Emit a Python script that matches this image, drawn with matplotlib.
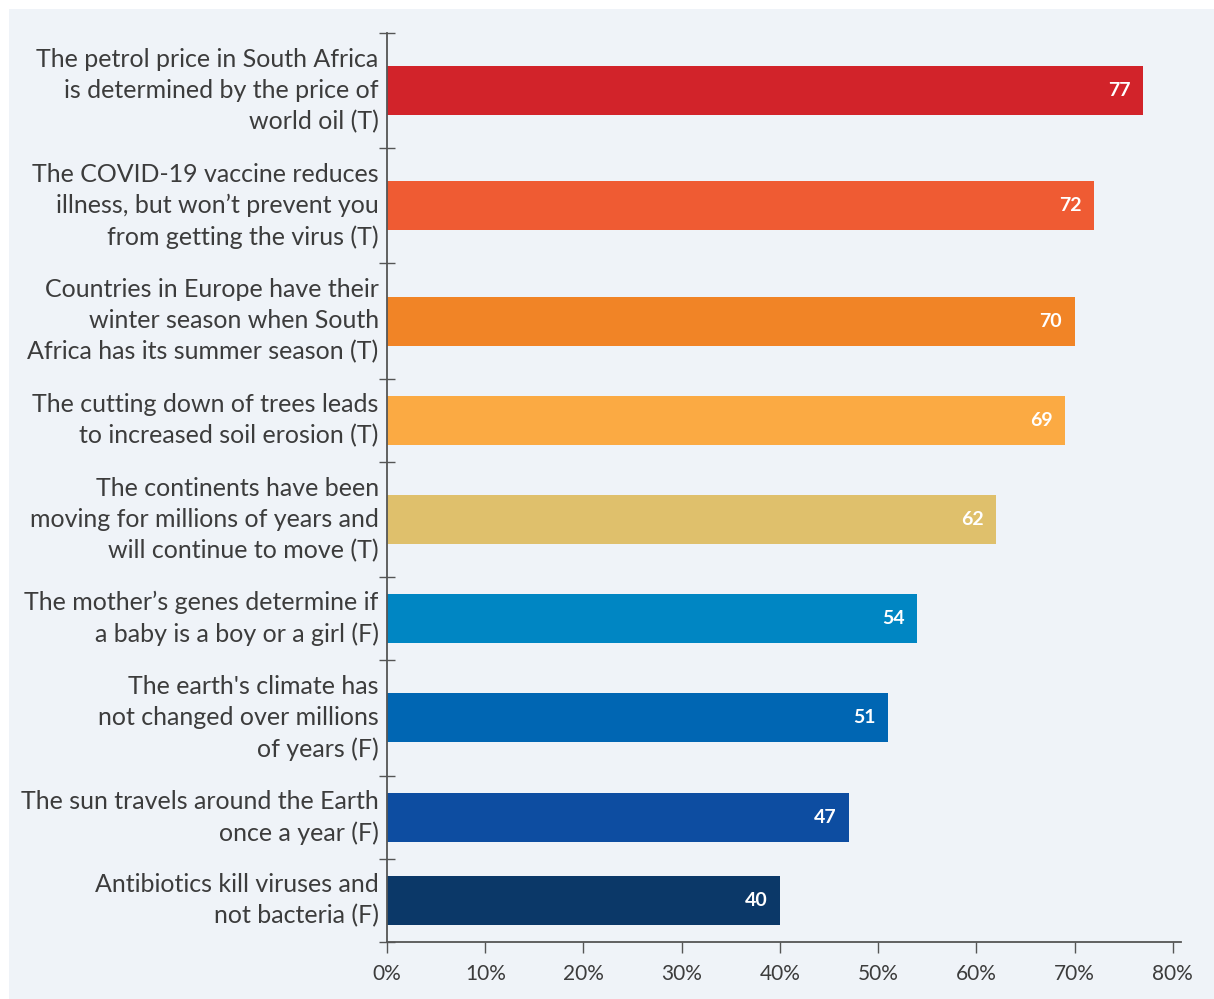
import matplotlib
matplotlib.use("Agg")
import matplotlib.pyplot as plt
from matplotlib.patches import Rectangle
from matplotlib.ticker import FixedLocator, FuncFormatter
import numpy as np

labels = [
    "The petrol price in South Africa\nis determined by the price of\nworld oil (T)",
    "The COVID-19 vaccine reduces\nillness, but won\u2019t prevent you\nfrom getting the virus (T)",
    "Countries in Europe have their\nwinter season when South\nAfrica has its summer season (T)",
    "The cutting down of trees leads\nto increased soil erosion (T)",
    "The continents have been\nmoving for millions of years and\nwill continue to move (T)",
    "The mother\u2019s genes determine if\na baby is a boy or a girl (F)",
    "The earth's climate has\nnot changed over millions\nof years (F)",
    "The sun travels around the Earth\nonce a year (F)",
    "Antibiotics kill viruses and\nnot bacteria (F)",
]
values = [77, 72, 70, 69, 62, 54, 51, 47, 40]
colors = ["#d2232a", "#ef5b33", "#f18426", "#fbaa43", "#dfc06c",
          "#0086c3", "#0066b3", "#0d4da1", "#0b3868"]
xticks = [0, 10, 20, 30, 40, 50, 60, 70, 80]

W, H = 1214, 999
LABEL_FONT = "Lato"
TEXT = "#3c3c3c"
AX = "#555555"

fig = plt.figure(figsize=(W / 100, H / 100), dpi=100)
fig.patch.set_facecolor("white")
fig.add_artist(Rectangle((9 / W, 0), 1 - 9 / W, 1 - 9 / H, transform=fig.transFigure,
                         facecolor="#eff3f8", edgecolor="none", zorder=0))

ax = fig.add_axes([387 / W, 1 - 942 / H, (1180.7 - 387) / W, (942 - 33) / H])
ax.set_facecolor("none")

nlines = np.array([l.count("\n") + 1 for l in labels])
band = nlines + 0.6
edges = np.concatenate([[0], np.cumsum(band)])
centers = (edges[:-1] + edges[1:]) / 2

bars = ax.barh(centers, values, height=1.53, color=colors, zorder=2)
for c, v in zip(centers, values):
    ax.annotate(str(v), xy=(v, c), xytext=(-9, 0), textcoords="offset points",
                ha="right", va="center", color="white", fontweight="bold",
                fontsize=14, family=LABEL_FONT, zorder=3)

ax.set_ylim(edges[-1], 0)
ax.set_xlim(0, 80.8)

for s in ["top", "right"]:
    ax.spines[s].set_visible(False)
for s in ["left", "bottom"]:
    ax.spines[s].set_color(AX)
    ax.spines[s].set_linewidth(1.3)

ax.yaxis.set_major_locator(FixedLocator(edges))
ax.yaxis.set_major_formatter(FuncFormatter(lambda v, p: ""))
ax.yaxis.set_minor_locator(FixedLocator(centers))
ax.set_yticklabels(labels, minor=True)
ax.tick_params(axis="y", which="major", direction="inout", length=11.5, width=1.0, color=AX)
ax.tick_params(axis="y", which="minor", length=0, pad=6)
for t in ax.get_yticklabels(minor=True):
    t.set_fontfamily(LABEL_FONT)
    t.set_fontsize(18)
    t.set_color(TEXT)
    t.set_linespacing(1.42)
    t.set_multialignment("right")
    t.set_verticalalignment("center")

ax.set_xticks(xticks)
ax.set_xticklabels([f"{x}%" for x in xticks])
ax.tick_params(axis="x", direction="out", length=8, width=1.0, color=AX, pad=8,
               labelsize=15, labelcolor=TEXT)
for t in ax.get_xticklabels():
    t.set_fontfamily(LABEL_FONT)

fig.savefig("out.png", dpi=100, facecolor="white")
